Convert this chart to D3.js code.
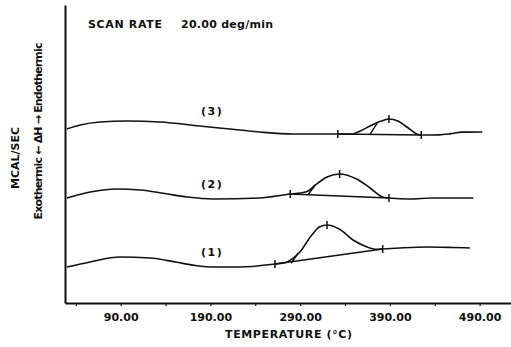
<!DOCTYPE html>
<html>
<head>
<meta charset="utf-8">
<script src="https://cdn.jsdelivr.net/npm/d3@7"></script>
<style>
  body { margin: 0; background: #fff; }
  text { font-family: "DejaVu Sans", sans-serif; font-weight: bold; fill: #111; }
</style>
</head>
<body>
<div id="chart"></div>
<script>
// DSC scans, temperature in deg C vs heat flow (arbitrary mcal/sec offset units)

const xTicks = [90, 190, 290, 390, 490];
const minorTicks = [40, 140, 240, 340, 440];

// trace (1)
const temp1 = [30, 56, 89, 123, 151, 173, 195, 223, 262, 273, 282, 290, 303, 312, 320, 334, 349, 364, 375, 382, 401, 431, 460, 479];
const flow1 = [3.62, 4.13, 4.63, 4.53, 4.13, 3.78, 3.62, 3.62, 3.93, 4.06, 4.5, 5.16, 6.85, 7.68, 7.85, 7.42, 6.34, 5.67, 5.41, 5.44, 5.54, 5.64, 5.59, 5.54];
const base1 = [[262, 3.93], [382, 5.44]];
const onset1 = [[280, 4.0], [288, 5.05]];
const marks1 = [[262, 3.93], [320, 7.85], [382, 5.44]];

// trace (2)
const temp2 = [30, 56, 86, 112, 139, 164, 193, 245, 279, 290, 299, 307, 320, 334, 353, 368, 382, 389, 412, 438, 483];
const flow2 = [10.57, 11.17, 11.48, 11.38, 11.02, 10.67, 10.47, 10.57, 10.97, 11.07, 11.28, 11.88, 12.68, 12.99, 12.48, 11.58, 10.67, 10.57, 10.47, 10.57, 10.57];
const base2 = [[279, 10.97], [389, 10.57]];
const onset2 = [[299, 10.92], [307, 11.88]];
const marks2 = [[279, 10.97], [334, 12.99], [389, 10.57]];

// trace (3)
const temp3 = [30, 45, 67, 97, 134, 178, 223, 245, 282, 332, 348, 357, 368, 379, 389, 399, 409, 420, 425, 445, 458, 470, 493];
const flow3 = [17.52, 17.92, 18.22, 18.32, 18.22, 17.82, 17.42, 17.22, 17.01, 17.01, 17.01, 17.32, 17.82, 18.27, 18.52, 18.32, 17.72, 17.01, 16.91, 16.93, 17.05, 17.2, 17.22];
const base3 = [[332, 17.01], [425, 16.91]];
const onset3 = [[368, 17.01], [376, 18.1]];
const marks3 = [[332, 17.01], [389, 18.52], [425, 16.91]];

const traces = [
  { name: "(1)", t: temp1, f: flow1, base: base1, onset: onset1, marks: marks1, labelY: 4.75 },
  { name: "(2)", t: temp2, f: flow2, base: base2, onset: onset2, marks: marks2, labelY: 11.6 },
  { name: "(3)", t: temp3, f: flow3, base: base3, onset: onset3, marks: marks3, labelY: 18.9 }
];

const width = 511, height = 347;
const svg = d3.select("#chart").append("svg")
  .attr("width", width)
  .attr("height", height);

const x = d3.scaleLinear().domain([28, 525]).range([65, 511]);
const y = d3.scaleLinear().domain([0, 30]).range([303, 5]);

// axes
const xAxis = svg.append("g")
  .attr("transform", "translate(0,303)")
  .call(d3.axisBottom(x)
    .tickValues(xTicks.concat(minorTicks))
    .tickSize(3)
    .tickSizeOuter(0)
    .tickPadding(7)
    .tickFormat(d => xTicks.includes(d) ? d3.format(".2f")(d) : ""));
xAxis.select(".domain").attr("stroke", "#111").attr("stroke-width", 2);
xAxis.selectAll(".tick line").attr("stroke", "#111").attr("stroke-width", 1.2);
xAxis.selectAll(".tick text").attr("font-size", "11px").attr("fill", "#111")
  .attr("font-family", "\"DejaVu Sans\", sans-serif")
  .attr("font-weight", "bold");

const yAxis = svg.append("g")
  .attr("transform", "translate(65,0)")
  .call(d3.axisLeft(y).tickValues([]).tickSizeOuter(0));
yAxis.select(".domain").attr("stroke", "#111").attr("stroke-width", 2);

const line = d3.line()
  .x(d => x(d[0]))
  .y(d => y(d[1]))
  .curve(d3.curveMonotoneX);

const straight = d3.line().x(d => x(d[0])).y(d => y(d[1]));

traces.forEach(tr => {
  const pts = tr.t.map((t, i) => [t, tr.f[i]]);
  svg.append("path")
    .attr("d", line(pts))
    .attr("fill", "none")
    .attr("stroke", "#111")
    .attr("stroke-width", 1.6);

  svg.append("path")
    .attr("d", straight(tr.base))
    .attr("fill", "none")
    .attr("stroke", "#111")
    .attr("stroke-width", 1.4);

  svg.append("path")
    .attr("d", straight(tr.onset))
    .attr("fill", "none")
    .attr("stroke", "#111")
    .attr("stroke-width", 1.4);

  svg.selectAll(null)
    .data(tr.marks)
    .enter().append("line")
    .attr("x1", d => x(d[0]))
    .attr("x2", d => x(d[0]))
    .attr("y1", d => y(d[1]) - 4)
    .attr("y2", d => y(d[1]) + 4)
    .attr("stroke", "#111")
    .attr("stroke-width", 1.5);

  svg.append("text")
    .attr("x", x(192))
    .attr("y", y(tr.labelY))
    .attr("text-anchor", "middle")
    .attr("font-size", "11px")
    .attr("letter-spacing", "1.5px")
    .text(tr.name);
});

// titles
svg.append("text")
  .attr("x", 88)
  .attr("y", 28)
  .attr("font-size", "11px")
  .attr("textLength", 74)
  .text("SCAN  RATE");

svg.append("text")
  .attr("x", 181)
  .attr("y", 28)
  .attr("font-size", "11px")
  .attr("textLength", 92)
  .text("20.00 deg/min");

svg.append("text")
  .attr("x", 225)
  .attr("y", 338)
  .attr("font-size", "11px")
  .attr("textLength", 127)
  .text("TEMPERATURE (°C)");

svg.append("text")
  .attr("transform", "translate(19,158) rotate(-90)")
  .attr("text-anchor", "middle")
  .attr("font-size", "11px")
  .text("MCAL/SEC");

svg.append("text")
  .attr("transform", "translate(42,131) rotate(-90)")
  .attr("text-anchor", "middle")
  .attr("font-size", "11px")
  .attr("textLength", 177)
  .text("Exothermic \u2190 \u0394H \u2192 Endothermic");
</script>
</body>
</html>
